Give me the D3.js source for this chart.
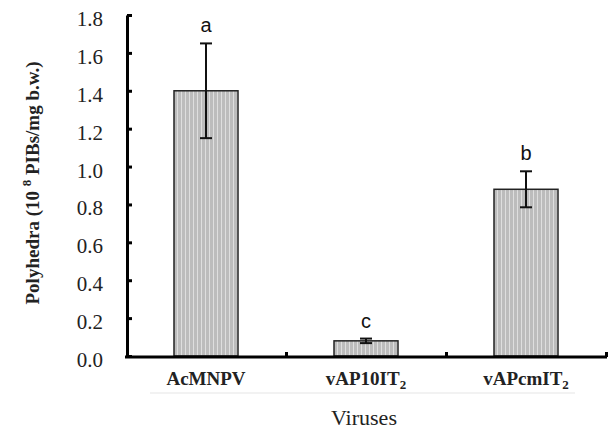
<!DOCTYPE html>
<html><head><meta charset="utf-8">
<script src="https://cdn.jsdelivr.net/npm/d3@7/dist/d3.min.js"></script>
<style>body{margin:0;background:#fff}svg{display:block}</style>
</head><body>
<svg id="c" width="610" height="432"></svg>
<script>
const categories = ["AcMNPV", "vAP10IT", "vAPcmIT"];
const subscripts = ["", "2", "2"];
const values = [1.40, 0.08, 0.88];
const errors = [0.25, 0.012, 0.095];
const letters = ["a", "c", "b"];
const yTicks = [0, 0.2, 0.4, 0.6, 0.8, 1.0, 1.2, 1.4, 1.6, 1.8];

const SERIF = "'Liberation Serif', 'Times New Roman', serif";
const svg = d3.select("#c");
const x = d3.scaleBand().domain(categories).range([126, 606]).paddingInner(0.6).paddingOuter(0.3);
const y = d3.scaleLinear().domain([0, 1.8]).range([356, 15]);

const defs = svg.append("defs");
const pat = defs.append("pattern").attr("id", "stripes").attr("patternUnits", "userSpaceOnUse")
  .attr("width", 4).attr("height", 10);
pat.append("rect").attr("width", 4).attr("height", 10).attr("fill", "#bcbcbc");
pat.append("rect").attr("x", 1).attr("width", 1).attr("height", 10).attr("fill", "#dedede");

// faint artifact line
svg.append("line").attr("x1", 150).attr("x2", 575).attr("y1", 393).attr("y2", 393)
  .attr("stroke", "#f2f2f2").attr("stroke-width", 2);

// bars
svg.selectAll("rect.bar").data(categories).join("rect").attr("class", "bar")
  .attr("x", d => x(d)).attr("width", x.bandwidth())
  .attr("y", (d, i) => y(values[i])).attr("height", (d, i) => y(0) - y(values[i]))
  .attr("fill", "url(#stripes)").attr("stroke", "#222").attr("stroke-width", 1.5);

// error bars
const eb = svg.append("g").attr("stroke", "#111").attr("stroke-width", 2);
categories.forEach((c, i) => {
  const cx = x(c) + x.bandwidth() / 2;
  eb.append("line").attr("x1", cx).attr("x2", cx).attr("y1", y(values[i] + errors[i])).attr("y2", y(values[i] - errors[i]));
  [values[i] + errors[i], values[i] - errors[i]].forEach(v =>
    eb.append("line").attr("x1", cx - 6).attr("x2", cx + 6).attr("y1", y(v)).attr("y2", y(v)));
});

// letters
svg.selectAll("text.let").data(categories).join("text").attr("class", "let")
  .attr("x", d => x(d) + x.bandwidth() / 2)
  .attr("y", (d, i) => y(values[i] + errors[i]) - 11)
  .attr("text-anchor", "middle").style("font-family", "'Liberation Sans', Arial, sans-serif")
  .style("font-size", "20px").attr("fill", "#111").text((d, i) => letters[i]);

// y axis
const yAxis = d3.axisLeft(y).tickValues(yTicks).tickFormat(d3.format(".1f")).tickSizeInner(-5).tickSizeOuter(0).tickPadding(24);
const gy = svg.append("g").attr("transform", "translate(127,0)").call(yAxis);
gy.attr("font-family", null).attr("font-size", null);
gy.select(".domain").attr("stroke", "#000").attr("stroke-width", 3);
gy.selectAll(".tick line").attr("stroke", "#000").attr("stroke-width", 3);
gy.selectAll(".tick text").style("font-family", SERIF).style("font-size", "21px")
  .attr("dy", "0.5em").attr("fill", "#222");

// x axis
const xb = d3.scaleLinear().domain([0, 3]).range([126, 606]);
const xAxis = d3.axisBottom(xb).tickValues([1, 2, 3]).tickFormat("").tickSizeInner(-5).tickSizeOuter(0);
const gx = svg.append("g").attr("transform", "translate(0,357)").call(xAxis);
gx.select(".domain").attr("stroke", "#000").attr("stroke-width", 3).attr("d", "M125,0H607");
gx.selectAll(".tick line").attr("stroke", "#000").attr("stroke-width", 3);

// x labels
const xl = svg.selectAll("text.xl").data(categories).join("text").attr("class", "xl")
  .attr("x", d => x(d) + x.bandwidth() / 2).attr("y", 385)
  .attr("text-anchor", "middle").style("font-family", SERIF)
  .style("font-weight", "bold").style("font-size", "19px").attr("fill", "#222");
xl.append("tspan").text(d => d);
xl.append("tspan").style("font-size", "13px").attr("dy", 4).text((d, i) => subscripts[i]);

svg.append("text").attr("x", 364).attr("y", 425).attr("text-anchor", "middle")
  .style("font-family", SERIF).style("font-size", "22px").attr("fill", "#222")
  .text("Viruses");

// y title
const yt = svg.append("text").attr("transform", "translate(39,183) rotate(-90)").attr("text-anchor", "middle")
  .style("font-family", SERIF).style("font-weight", "bold")
  .style("font-size", "19px").attr("fill", "#222");
yt.append("tspan").text("Polyhedra (10 ");
yt.append("tspan").style("font-size", "13px").attr("dy", -8).text("8");
yt.append("tspan").attr("dy", 8).text(" PIBs/mg b.w.)");
</script>
</body></html>
